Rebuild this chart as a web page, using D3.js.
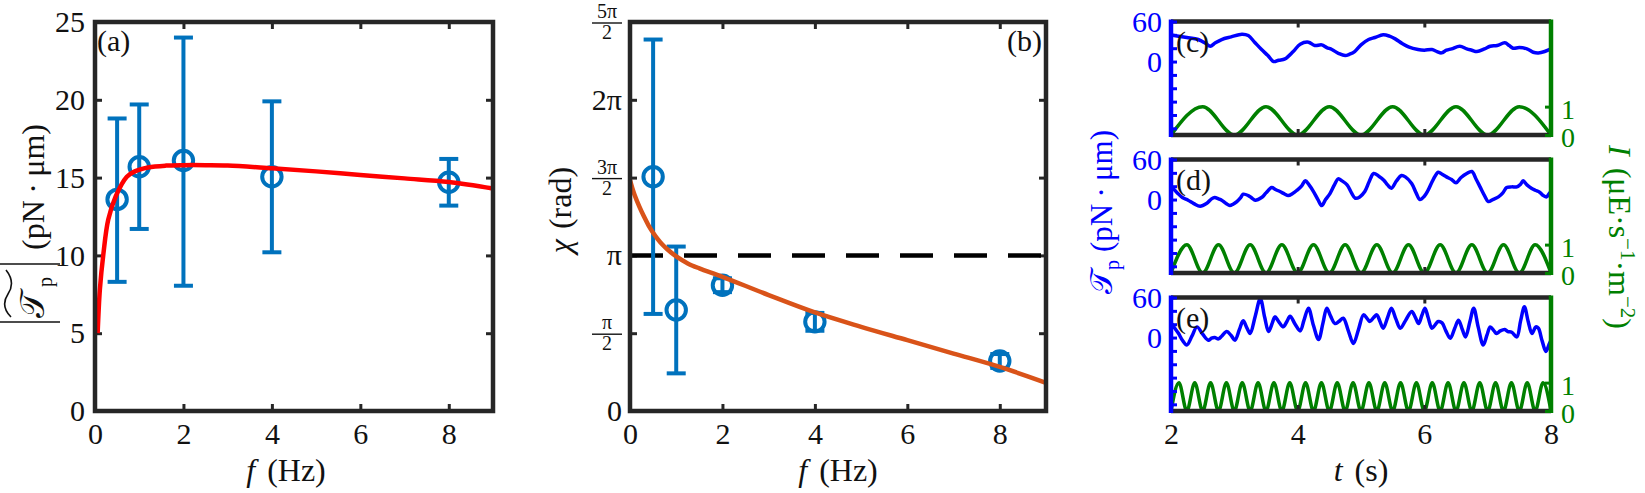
<!DOCTYPE html>
<html><head><meta charset="utf-8">
<script src="https://cdn.jsdelivr.net/npm/d3@7"></script>
<style>
body{margin:0;background:#fff}
svg{display:block}
</style></head>
<body><svg id="chart" width="1645" height="493" style="font-family:'Liberation Serif','Tinos','Times New Roman','DejaVu Serif','Noto Serif',serif"></svg>
<script>
// ---------------- data ----------------
const freqs = [0.5, 1, 2, 4, 8];
const torqueMean = [13.6, 15.7, 16.1, 15.05, 14.7];
const torqueLow  = [8.3, 11.7, 8.05, 10.2, 13.2];
const torqueHigh = [18.8, 19.7, 24.0, 19.9, 16.2];
const torqueFitF = [0.06, 0.11, 0.19, 0.3, 0.47, 0.72, 0.9, 1.2, 1.6, 2, 2.5, 3, 4, 5, 6, 7, 8, 9];
const torqueFitV = [5.0, 7.8, 10.1, 12.3, 13.8, 15.05, 15.4, 15.65, 15.77, 15.8, 15.8, 15.78, 15.6, 15.4, 15.17, 14.95, 14.72, 14.3];

const phaseMean = [4.73, 2.04, 2.54, 1.80, 1.01];
const phaseLow  = [1.96, 0.76, 2.40, 1.62, 0.87];
const phaseHigh = [7.50, 3.32, 2.68, 1.98, 1.15];
const phaseFitF = [0, 0.05, 0.1, 0.2, 0.3, 0.4, 0.5, 0.6, 0.7, 0.8, 1.0, 1.25, 1.5, 2, 3, 4, 5, 6, 7, 8, 9];
const phaseFitV = [4.66, 4.50, 4.36, 4.13, 3.93, 3.75, 3.60, 3.47, 3.36, 3.27, 3.12, 2.98, 2.88, 2.71, 2.34, 1.99, 1.70, 1.43, 1.16, 0.89, 0.57];
const phaseRef = Math.PI;

const fTicks = [0, 2, 4, 6, 8];
const torqueTicks = [0, 5, 10, 15, 20, 25];
const phaseTicks = [0, Math.PI/2, Math.PI, 3*Math.PI/2, 2*Math.PI, 5*Math.PI/2];
const phaseTickNum = ["0", "π", "π", "3π", "2π", "5π"];
const phaseTickDen = ["", "2", "", "2", "", "2"];

const tTicks = [2, 4, 6, 8];
const leftTicks = [-100, -80, -60, -40, -20, 0, 20, 40, 60];
const leftTickLabels = {"0": "0", "60": "60"};
const rightTicks = [0, 1];

const traceCT = [2.0,2.12,2.25,2.43,2.55,2.62,2.7,2.8,2.95,3.12,3.22,3.32,3.43,3.53,3.62,3.7,3.8,3.93,4.04,4.17,4.27,4.38,4.46,4.54,4.65,4.75,4.82,4.9,5.0,5.12,5.22,5.35,5.45,5.54,5.65,5.75,5.9,6.0,6.12,6.2,6.27,6.35,6.43,6.56,6.67,6.75,6.83,6.95,7.04,7.15,7.27,7.34,7.4,7.5,7.62,7.72,7.8,7.9,8.0];
const traceCV = [40,38,36,33,27,23,28,33,37,41,39,29,18,9,0,2,4,15,26,29,24,25,21,18,12,9,11,15,25,33,36,40,38,34,27,22,18,17,18,15,13,17,19,23,19,17,15,19,23,24,28,24,20,21,19,14,13,15,19];

const traceDT = [2.0,2.1,2.18,2.27,2.36,2.46,2.56,2.64,2.69,2.75,2.8,2.87,2.93,2.98,3.04,3.1,3.14,3.22,3.28,3.33,3.43,3.5,3.59,3.65,3.72,3.8,3.85,3.92,3.99,4.06,4.12,4.18,4.25,4.32,4.38,4.44,4.51,4.58,4.64,4.7,4.78,4.85,4.91,4.98,5.06,5.13,5.2,5.28,5.36,5.42,5.48,5.56,5.64,5.7,5.8,5.87,5.93,6.0,6.06,6.14,6.22,6.28,6.35,6.43,6.5,6.58,6.67,6.75,6.82,6.88,6.95,7.01,7.08,7.17,7.24,7.3,7.38,7.46,7.52,7.56,7.62,7.69,7.75,7.82,7.88,7.93,7.97,8.0];
const traceDV = [20,10,3,-1,-6,-10,-6,1,3,1,-1,-6,-9,-7,-3,3,8,6,2,-1,3,10,18,15,12,8,6,9,14,20,28,22,12,0,-9,0,9,22,31,28,22,10,2,4,12,27,39,35,29,22,17,28,36,34,24,10,0,5,14,30,41,38,34,30,25,33,39,42,30,19,6,-3,0,4,10,18,19,19,23,28,22,17,14,11,6,4,9,12];

const traceET = [2.0,2.06,2.12,2.18,2.25,2.33,2.41,2.5,2.59,2.64,2.69,2.75,2.8,2.88,2.95,3.01,3.08,3.14,3.2,3.25,3.33,3.41,3.48,3.54,3.6,3.64,3.7,3.77,3.83,3.88,3.96,4.04,4.1,4.17,4.25,4.33,4.4,4.46,4.52,4.59,4.65,4.72,4.8,4.88,4.96,5.04,5.1,5.14,5.2,5.25,5.3,5.35,5.42,5.48,5.55,5.62,5.7,5.8,5.86,5.91,5.96,6.01,6.06,6.12,6.17,6.22,6.28,6.34,6.41,6.48,6.54,6.6,6.65,6.72,6.78,6.85,6.93,6.99,7.04,7.1,7.14,7.2,7.27,7.32,7.38,7.46,7.52,7.58,7.64,7.7,7.76,7.8,7.86,7.92,7.97,8.0];
const traceEV = [22,14,6,-4,-11,2,16,5,-4,-1,0,-2,2,9,3,-4,12,25,14,6,32,58,30,9,22,31,24,16,24,32,20,10,26,44,18,-3,22,44,32,21,24,29,10,-9,12,34,28,24,30,34,24,14,30,44,28,14,25,39,30,21,33,44,30,14,19,24,22,10,-1,14,26,12,1,24,44,16,-11,4,16,10,6,10,12,9,8,1,25,46,24,6,16,14,-5,-21,-10,-4];

const lightCT = [2,2.5,3,3.5,4,4.5,5,5.5,6,6.5,7,7.5,8];
const lightCI = [0,1,0,1,0,1,0,1,0,1,0,1,0];
const lightDT = [2,2.25,2.5,2.75,3,3.25,3.5,3.75,4,4.25,4.5,4.75,5,5.25,5.5,5.75,6,6.25,6.5,6.75,7,7.25,7.5,7.75,8];
const lightDI = [0,1,0,1,0,1,0,1,0,1,0,1,0,1,0,1,0,1,0,1,0,1,0,1,0];
const lightET = [2,2.125,2.25,2.375,2.5,2.625,2.75,2.875,3,3.125,3.25,3.375,3.5,3.625,3.75,3.875,4,4.125,4.25,4.375,4.5,4.625,4.75,4.875,5,5.125,5.25,5.375,5.5,5.625,5.75,5.875,6,6.125,6.25,6.375,6.5,6.625,6.75,6.875,7,7.125,7.25,7.375,7.5,7.625,7.75,7.875,8];
const lightEI = [0,1,0,1,0,1,0,1,0,1,0,1,0,1,0,1,0,1,0,1,0,1,0,1,0,1,0,1,0,1,0,1,0,1,0,1,0,1,0,1,0,1,0,1,0,1,0,1,0];

// ---------------- styles ----------------
const SERIF = "'Liberation Serif','Tinos','Times New Roman','DejaVu Serif','Noto Serif',serif";
const AX = "#262626", TXT = "#111";
const MARK = "#0072BD", RED = "#FF0000", ORANGE = "#D95319";
const BLUE = "#0000FF", GREEN = "#008000";
const FS = 30;

const svg = d3.select("#chart");

function txt(x, y, s, size, color) {
  return svg.append("text").attr("x", x).attr("y", y).attr("fill", color || TXT)
    .style("font-family", SERIF).style("font-size", size + "px").text(s);
}

function styleAxis(g, color, fs) {
  g.attr("font-family", null).attr("font-size", null);
  g.select(".domain").remove();
  g.selectAll(".tick line").attr("stroke", color).attr("stroke-width", 3);
  g.selectAll(".tick text").attr("fill", color).style("font-family", SERIF).style("font-size", fs + "px");
}

function framePanel(x, y, yt) {
  const [x0, x1] = x.range(), [y0, y1] = y.range();
  const gB = svg.append("g").attr("transform", `translate(0,${y0})`)
    .call(d3.axisBottom(x).tickValues(fTicks).tickSizeInner(-7).tickSizeOuter(0).tickPadding(12).tickFormat(d3.format("d")));
  styleAxis(gB, AX, FS); gB.selectAll(".tick text").attr("fill", TXT);
  const gT = svg.append("g").attr("transform", `translate(0,${y1})`)
    .call(d3.axisTop(x).tickValues(fTicks).tickSizeInner(-7).tickSizeOuter(0).tickFormat(""));
  styleAxis(gT, AX, FS);
  const gR = svg.append("g").attr("transform", `translate(${x1},0)`)
    .call(d3.axisRight(y).tickValues(yt).tickSizeInner(-7).tickSizeOuter(0).tickFormat(""));
  styleAxis(gR, AX, FS);
}

function drawData(x, y, mean, low, high, fitF, fitV, fitColor) {
  const eb = svg.append("g");
  freqs.forEach((f, i) => {
    const cx = x(f);
    eb.append("line").attr("x1", cx).attr("x2", cx).attr("y1", y(low[i])).attr("y2", y(high[i]))
      .attr("stroke", MARK).attr("stroke-width", 4);
    [low[i], high[i]].forEach(v => eb.append("line").attr("x1", cx - 9.5).attr("x2", cx + 9.5)
      .attr("y1", y(v)).attr("y2", y(v)).attr("stroke", MARK).attr("stroke-width", 4));
    eb.append("circle").attr("cx", cx).attr("cy", y(mean[i])).attr("r", 9.7)
      .attr("fill", "none").attr("stroke", MARK).attr("stroke-width", 4);
  });
  const line = d3.line().x((d, i) => x(fitF[i])).y(d => y(d)).curve(d3.curveCatmullRom);
  svg.append("path").attr("d", line(fitV)).attr("fill", "none").attr("stroke", fitColor).attr("stroke-width", 4.5);
}

function box(x0, x1, y0, y1) {
  svg.append("rect").attr("x", x0).attr("y", y1).attr("width", x1 - x0).attr("height", y0 - y1)
    .attr("fill", "none").attr("stroke", AX).attr("stroke-width", 4.5);
}

// ---------------- panel (a) ----------------
const xA = d3.scaleLinear([0, 9], [95, 493]);
const yA = d3.scaleLinear([0, 25], [411, 22]);
framePanel(xA, yA, torqueTicks);
const gLA = svg.append("g").attr("transform", "translate(95,0)")
  .call(d3.axisLeft(yA).tickValues(torqueTicks).tickSizeInner(-7).tickSizeOuter(0).tickPadding(10).tickFormat(d3.format("d")));
styleAxis(gLA, AX, FS); gLA.selectAll(".tick text").attr("fill", TXT);
drawData(xA, yA, torqueMean, torqueLow, torqueHigh, torqueFitF, torqueFitV, RED);
box(95, 493, 411, 22);
txt(97, 51, "(a)", FS);
const xlA = txt(286, 481, "", 32).attr("text-anchor", "middle");
xlA.append("tspan").style("font-style", "italic").text("f");
xlA.append("tspan").attr("dx", 12).text("(Hz)");
// y label
const ylA = svg.append("g").attr("transform", "translate(44,322) rotate(-90)");
ylA.append("line").attr("x1", 0).attr("x2", 0).attr("y1", -44).attr("y2", 16).attr("stroke", TXT).attr("stroke-width", 1.6);
ylA.append("line").attr("x1", 58).attr("x2", 58).attr("y1", -44).attr("y2", 16).attr("stroke", TXT).attr("stroke-width", 1.6);
ylA.append("text").attr("x", 4).attr("y", 0).attr("fill", TXT).style("font-family", SERIF).style("font-size", "34px").text("𝒯");
ylA.append("text").attr("x", 35).attr("y", 8).attr("fill", TXT).style("font-family", SERIF).style("font-size", "20px").text("p");
ylA.append("path").attr("d", "M5,-33 C14,-42 22,-40 28,-36 C34,-32 42,-30 52,-38").attr("fill", "none").attr("stroke", TXT).attr("stroke-width", 1.6);
ylA.append("text").attr("x", 72).attr("y", 0).attr("fill", TXT).style("font-family", SERIF).style("font-size", "32px").text("(pN\u2009·\u2009μm)");

// ---------------- panel (b) ----------------
const xB = d3.scaleLinear([0, 9], [630, 1046]);
const yB = d3.scaleLinear([0, 2.5 * Math.PI], [411, 22]);
framePanel(xB, yB, phaseTicks);
const gLB = svg.append("g").attr("transform", "translate(630,0)")
  .call(d3.axisLeft(yB).tickValues(phaseTicks).tickSizeInner(-7).tickSizeOuter(0).tickFormat(""));
styleAxis(gLB, AX, FS);
phaseTicks.forEach((v, i) => {
  const yy = yB(v);
  if (phaseTickDen[i]) {
    txt(607, yy - 4, phaseTickNum[i], 20).attr("text-anchor", "middle");
    svg.append("line").attr("x1", 592).attr("x2", 622).attr("y1", yy + 1).attr("y2", yy + 1).attr("stroke", TXT).attr("stroke-width", 1.4);
    txt(607, yy + 17, phaseTickDen[i], 20).attr("text-anchor", "middle");
  } else {
    txt(622, yy, phaseTickNum[i], FS).attr("dy", "0.33em").attr("text-anchor", "end");
  }
});
svg.append("line").attr("x1", xB(0)).attr("x2", xB(9)).attr("y1", yB(phaseRef)).attr("y2", yB(phaseRef))
  .attr("stroke", "#000").attr("stroke-width", 4.5).attr("stroke-dasharray", "33,21");
drawData(xB, yB, phaseMean, phaseLow, phaseHigh, phaseFitF, phaseFitV, ORANGE);
box(630, 1046, 411, 22);
txt(1042, 51, "(b)", FS).attr("text-anchor", "end");
const xlB = txt(838, 481, "", 32).attr("text-anchor", "middle");
xlB.append("tspan").style("font-style", "italic").text("f");
xlB.append("tspan").attr("dx", 12).text("(Hz)");
const ylB = txt(0, 0, "", 32).attr("transform", "translate(571,210) rotate(-90)").attr("text-anchor", "middle");
ylB.append("tspan").style("font-style", "italic").text("χ");
ylB.append("tspan").attr("dx", 10).text("(rad)");

// ---------------- panels (c)-(e) ----------------
const xT = d3.scaleLinear([2, 8], [1171, 1551]);
const tops = [21.5, 159.5, 297.5], PH = 113.5;
const traces = [[traceCT, traceCV], [traceDT, traceDV], [traceET, traceEV]];
const lights = [[lightCT, lightCI], [lightDT, lightDI], [lightET, lightEI]];
const names = ["(c)", "(d)", "(e)"];

tops.forEach((top, k) => {
  const bot = top + PH;
  const yL = d3.scaleLinear([-110, 60], [bot, top]);
  const yR = d3.scaleLinear([0, 4], [bot, top]);
  const cid = "clip" + k;
  svg.append("clipPath").attr("id", cid).append("rect").attr("x", 1171).attr("y", top).attr("width", 380).attr("height", PH);

  const lineR = d3.line().x((d, i) => xT(lights[k][0][i])).y(d => yR(d)).curve(d3.curveMonotoneX);
  svg.append("path").attr("d", lineR(lights[k][1])).attr("clip-path", `url(#${cid})`)
    .attr("fill", "none").attr("stroke", GREEN).attr("stroke-width", 3.5);
  const lineL = d3.line().x((d, i) => xT(traces[k][0][i])).y(d => yL(d)).curve(d3.curveCatmullRom);
  svg.append("path").attr("d", lineL(traces[k][1])).attr("clip-path", `url(#${cid})`)
    .attr("fill", "none").attr("stroke", BLUE).attr("stroke-width", 3.5).attr("stroke-linejoin", "round");

  svg.append("line").attr("x1", 1171).attr("x2", 1551).attr("y1", top).attr("y2", top).attr("stroke", AX).attr("stroke-width", 4.5);
  svg.append("line").attr("x1", 1171).attr("x2", 1551).attr("y1", bot).attr("y2", bot).attr("stroke", AX).attr("stroke-width", 4.5);
  const gBt = svg.append("g").attr("transform", `translate(0,${bot})`)
    .call(d3.axisBottom(xT).tickValues(tTicks).tickSizeInner(-6).tickSizeOuter(0).tickPadding(12)
      .tickFormat(k === 2 ? d3.format("d") : ""));
  styleAxis(gBt, AX, FS); gBt.selectAll(".tick text").attr("fill", TXT);
  const gTp = svg.append("g").attr("transform", `translate(0,${top})`)
    .call(d3.axisTop(xT).tickValues(tTicks).tickSizeInner(-6).tickSizeOuter(0).tickFormat(""));
  styleAxis(gTp, AX, FS);

  const gL = svg.append("g").attr("transform", "translate(1171,0)")
    .call(d3.axisLeft(yL).tickValues(leftTicks).tickSizeInner(-6).tickSizeOuter(0).tickPadding(9)
      .tickFormat(d => leftTickLabels[String(d)] || ""));
  styleAxis(gL, BLUE, FS);
  svg.append("line").attr("x1", 1171).attr("x2", 1171).attr("y1", top - 2).attr("y2", bot + 2).attr("stroke", BLUE).attr("stroke-width", 4.5);

  const gR = svg.append("g").attr("transform", "translate(1551,0)")
    .call(d3.axisRight(yR).tickValues(rightTicks).tickSizeInner(-6).tickSizeOuter(0).tickPadding(10).tickFormat(d3.format("d")));
  styleAxis(gR, GREEN, 28);
  gR.selectAll(".tick text").attr("dy", "0.42em");
  svg.append("line").attr("x1", 1551).attr("x2", 1551).attr("y1", top - 2).attr("y2", bot + 2).attr("stroke", GREEN).attr("stroke-width", 4.5);

  txt(1176, top + 30, names[k], FS);
});

const xlT = txt(1361, 481, "", 32).attr("text-anchor", "middle");
xlT.append("tspan").style("font-style", "italic").text("t");
xlT.append("tspan").attr("dx", 12).text("(s)");

const ylT = txt(0, 0, "", 31, BLUE).attr("transform", "translate(1112,212) rotate(-90)").attr("text-anchor", "middle");
ylT.append("tspan").text("𝒯");
ylT.append("tspan").attr("dy", 7).style("font-size", "20px").text("p");
ylT.append("tspan").attr("dy", -7).attr("dx", 8).text("(pN\u2009·\u2009μm)");

const ylI = txt(0, 0, "", 32, GREEN).attr("transform", "translate(1609,237) rotate(90)").attr("text-anchor", "middle");
ylI.append("tspan").style("font-style", "italic").text("I");
ylI.append("tspan").attr("dx", 12).text("(μE·s");
ylI.append("tspan").attr("dy", -12).style("font-size", "21px").text("−1");
ylI.append("tspan").attr("dy", 12).text("·m");
ylI.append("tspan").attr("dy", -12).style("font-size", "21px").text("−2");
ylI.append("tspan").attr("dy", 12).text(")");
</script></body></html>
